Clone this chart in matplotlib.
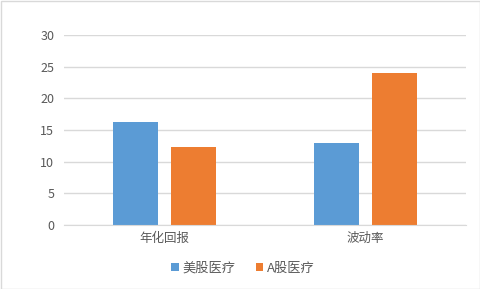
import matplotlib
matplotlib.use('Agg')
import matplotlib.pyplot as plt
from matplotlib.patches import Rectangle
import numpy as np

plt.rcParams['font.family'] = ['Noto Sans CJK SC', 'DejaVu Sans']

categories = ['年化回报', '波动率']
series_names = ['美股医疗', 'A股医疗']
us_values = [16.3, 13.0]
cn_values = [12.35, 24.0]
colors = ['#5B9BD5', '#ED7D31']
text_color = '#595959'
grid_color = '#D9D9D9'

W, H = 481, 289
fig = plt.figure(figsize=(W / 100, H / 100), dpi=100)
fig.patch.set_facecolor('white')
fig.patches.append(Rectangle((0.5 / W, 0.5 / H), 1 - 1.5 / W, 1 - 1.5 / H,
                             transform=fig.transFigure, fill=False,
                             edgecolor='#D9D9D9', linewidth=1))

ax = fig.add_axes([64 / W, (H - 225) / H, (466 - 64) / W, 190 / H])

x = np.arange(len(categories))
bw = 0.225
gap = 0.06
ax.bar(x - (bw + gap) / 2, us_values, width=bw, color=colors[0], label=series_names[0])
ax.bar(x + (bw + gap) / 2, cn_values, width=bw, color=colors[1], label=series_names[1])

ax.set_xlim(-0.5, 1.5)
ax.set_ylim(0, 30)
ax.set_yticks(range(0, 31, 5))
ax.set_xticks(x)
ax.set_xticklabels(categories)
ax.yaxis.grid(True, color=grid_color, linewidth=1)
ax.set_axisbelow(True)
for s in ['top', 'right', 'left']:
    ax.spines[s].set_visible(False)
ax.spines['bottom'].set_color(grid_color)
ax.tick_params(axis='both', length=0, colors=text_color, labelsize=9)
ax.tick_params(axis='y', pad=7)
ax.tick_params(axis='x', pad=5)

leg = fig.legend(loc='center', bbox_to_anchor=(243 / W, (H - 268) / H), ncol=2,
                 frameon=False, fontsize=9.5, handlelength=0.6, handleheight=0.6,
                 handletextpad=0.3, columnspacing=1.5)
for t in leg.get_texts():
    t.set_color(text_color)

fig.savefig('out.png', dpi=100)
